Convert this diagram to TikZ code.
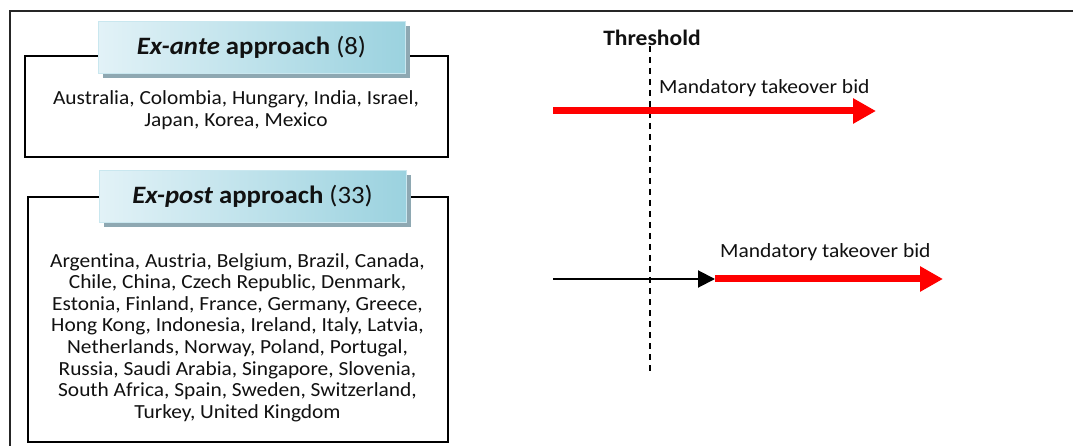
\documentclass[tikz,border=0pt]{standalone}
\usepackage{fontspec}
\setmainfont{Carlito}[FakeStretch=1.07, Ligatures=CommonOff]
\usetikzlibrary{arrows.meta,shadows}
\definecolor{tabLight}{HTML}{E2F2F7}
\definecolor{tabDark}{HTML}{9BD2DF}
\definecolor{tabShadow}{HTML}{8EA8B2}
\definecolor{tabEdge}{HTML}{C9E7EF}
\definecolor{txt}{HTML}{111111}
\definecolor{bidRed}{HTML}{FF0000}
\tikzset{
  frameline/.style={line width=2.4pt, draw=black!85},
  groupbox/.style={line width=2.6pt, draw=black},
  tab/.style={rectangle, draw=tabEdge, line width=1pt, left color=tabLight, right color=tabDark,
    minimum width=307pt, minimum height=52pt, inner sep=0pt, text=txt,
    font=\fontsize{25}{29}\selectfont,
    drop shadow={shadow xshift=5pt, shadow yshift=-5pt, fill=tabShadow, opacity=1}},
  members/.style={align=center, text=txt, inner sep=0pt, font=\fontsize{20}{21.6}\selectfont},
  bidlabel/.style={anchor=west, inner sep=0pt, text=txt, font=\fontsize{20.1}{24}\selectfont},
  bidarrow/.style={draw=bidRed, line width=7pt, -{Triangle[length=23pt,width=24pt]}},
  preline/.style={draw=black, line width=2pt, -{Triangle[length=17pt,width=17pt]}},
  thresholdline/.style={draw=black, line width=1.6pt, dash pattern=on 6pt off 5pt}
}
\begin{document}
\begin{tikzpicture}[x=1pt,y=-1pt]
\useasboundingbox (0,0) rectangle (1073,446);
\fill[white] (0,0) rectangle (1073,446);

% outer frame (open to the right and bottom)
\draw[frameline] (10,450) -- (10,11) -- (1080,11);

% ex-ante group
\draw[groupbox] (25,56) rectangle (448,157);
\node[tab] (antetab) at (251.5,47.5) {\textbf{\textit{Ex-ante}} \textbf{approach} (8)};
\node[members] (antelist) at (236,110)
  {Australia, Colombia, Hungary, India, Israel,\\Japan, Korea, Mexico};

% ex-post group
\draw[groupbox] (28,197) rectangle (448,442);
\node[tab] (posttab) at (252.5,196.5) {\textbf{\textit{Ex-post}} \textbf{approach} (33)};
\node[members] (postlist) at (237.5,337.5)
  {Argentina, Austria, Belgium, Brazil, Canada,\\
   Chile, China, Czech Republic, Denmark,\\
   Estonia, Finland, France, Germany, Greece,\\
   Hong Kong, Indonesia, Ireland, Italy, Latvia,\\
   Netherlands, Norway, Poland, Portugal,\\
   Russia, Saudi Arabia, Singapore, Slovenia,\\
   South Africa, Spain, Sweden, Switzerland,\\
   Turkey, United Kingdom};

% threshold
\node[text=txt, inner sep=0pt, font=\bfseries\fontsize{22}{26}\selectfont] (thr) at (652,38) {Threshold};
\coordinate (thrtop) at (650,46);
\coordinate (thrbot) at (650,374);
\draw[thresholdline] (thrtop) -- (thrbot);

% ex-ante: bid from the start
\coordinate (a0) at (553,111);
\coordinate (a1) at (876,111);
\draw[bidarrow] (a0) -- (a1);
\node[bidlabel] (alabel) at (659,88) {Mandatory takeover bid};

% ex-post: bid after the threshold is crossed
\coordinate (p0) at (553,279);
\coordinate (p1) at (715,279);
\coordinate (p2) at (943,279);
\draw[preline] (p0) -- (p1);
\draw[bidarrow] (p1) -- (p2);
\node[bidlabel] (plabel) at (720,252) {Mandatory takeover bid};
\end{tikzpicture}
\end{document}
